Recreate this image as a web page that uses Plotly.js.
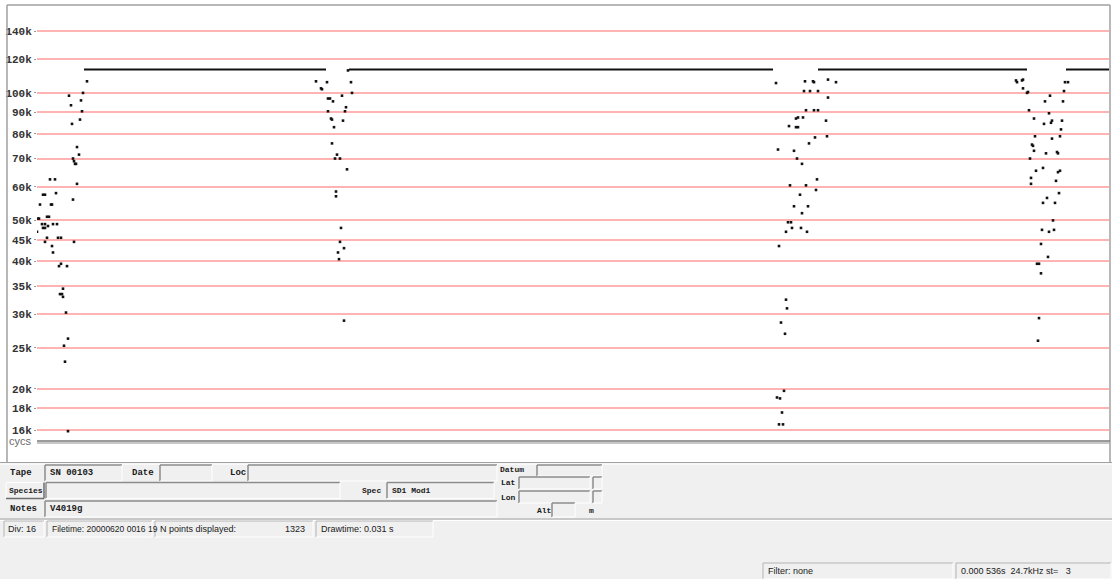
<!DOCTYPE html>
<html><head><meta charset="utf-8">
<script src="https://cdn.plot.ly/plotly-3.0.1.min.js"></script>
<style>html,body{margin:0;padding:0;background:#fff;overflow:hidden}#chart{width:1112px;height:579px}</style>
</head><body><div id="chart"></div>
<script>
// ---------- data (time in display units, frequency in kHz) ----------
const tickFreqs = [16,18,20,25,30,35,40,45,50,60,70,80,90,100,120,140];
const tickLabels = tickFreqs.map(v => v + 'k');

const plateauStart = [47, 312, 781, 1029];
const plateauEnd   = [289, 736, 990, 1073];
const plateauFreq  = [113.5, 113.5, 113.5, 113.5];

const call1Time = [0,1,2,3,5,6,6,8,8,8,8,10,10,11,12,13,14,15,15,16,16,18,19,20,21,22,24,24,23,25,26,26,27,28,29,30,31,31,32,34,35,36,36,37,37,38,39,40,40,42,43,44,45,46,50];
const call1Freq = [47,50.5,50.5,54.5,49,48,57.5,57.5,48,49,44.5,51,45.5,48.5,51,62.5,54.5,54.5,43.5,49,42,62.5,58,49,45.5,39,39.5,45.5,33.5,33.5,33,34.5,25.3,23.2,30.3,39,26.3,15.9,98.5,93.5,84.5,56,70,44.5,69,68,68,74.5,61,71.5,86.5,96,90.5,100,106.5];

const call2Time = [279,290,285,284,311,314,315,305,291,293,296,309,291,308,294,295,306,297,295,300,298,303,310,299,299,304,303,307,301,302,307];
const call2Freq = [106.5,106,102,102.5,113,106,100,98.5,97,97,95.5,92.5,90.5,90.5,87,86.5,86,83,76,71.5,70,70,66,58.5,57,48,44.5,43,42,40.5,29];

const call3Time = [739,768,776,777,791,799,767,773,781,791,769,777,781,766,759,761,789,752,759,761,790,778,772,741,757,760,765,780,753,769,779,763,757,771,765,751,754,755,749,764,770,742,749,750,744,748,747,740,743,745,742,746];
const call3Freq = [105.5,106.5,106.5,106,107.5,106,101,101,101,97.5,91,91,91,87.5,87,87.5,86,83.5,83,83,79,78.5,76,73.5,73,70,68,62.5,60.5,60.5,59,57.5,54,54,52,49.5,49.5,48,47,48,47,43.5,32.5,31,28.7,27,19.8,19.1,19,17.6,16.5,16.5];

const call4Time = [979,980,985,986,1028,1031,986,991,990,1027,1013,1008,1026,992,1012,997,1007,1014,1015,1025,1024,998,1023,1015,995,996,997,1009,1020,1021,993,1006,999,1023,1021,994,1019,994,1022,1010,1006,1018,1016,1005,1017,1012,1004,1011,1000,1002,1004,1002,1001];
const call4Freq = [107,106,107,107.5,106,106,102.5,100.5,100,101,98.5,95.5,95.5,91,89.5,87,84.5,85,86,86,82,79,79,78,75.5,75,73,72,72.5,72,70,66.5,65.5,65.5,65,63,62,61,58,56.5,55,55,50,47.5,47.5,47,44,41,39.5,39.5,37.5,29.4,26];

// ---------- page geometry helpers ----------
const W = 1112, H = 579;
const shapes = [], annotations = [];
const fx = x => x / W, fy = y => 1 - y / H;
function R(x0,y0,x1,y1,fill){shapes.push({type:'rect',xref:'paper',yref:'paper',x0:fx(x0),x1:fx(x1),y0:fy(y1),y1:fy(y0),fillcolor:fill,line:{width:0},layer:'above'});}
function L(x0,y0,x1,y1,c,w){shapes.push({type:'line',xref:'paper',yref:'paper',x0:fx(x0),x1:fx(x1),y0:fy(y0),y1:fy(y1),line:{color:c,width:w},layer:'above'});}
function sunken(x0,y0,x1,y1){R(x0,y0,x1,y1,'#f0f0f0');L(x0,y0,x1,y0,'#8c8c8c',1.5);L(x0,y0,x0,y1,'#8c8c8c',1.5);L(x0,y1,x1,y1,'#ffffff',1);L(x1,y0,x1,y1,'#ffffff',1);}
function thinCell(x0,y0,x1,y1){L(x0,y0,x1,y0,'#b4b4b4',1);L(x0,y0,x0,y1,'#b4b4b4',1);L(x0,y1,x1,y1,'#ffffff',1);L(x1,y0,x1,y1,'#ffffff',1);}
function raised(x0,y0,x1,y1){R(x0,y0,x1,y1,'#f0f0f0');L(x0,y0,x1,y0,'#ffffff',1);L(x0,y0,x0,y1,'#ffffff',1);L(x0,y1,x1,y1,'#6e6e6e',1.5);L(x1,y0,x1,y1,'#6e6e6e',1.5);}
function T(x,y,text,font,anchor){annotations.push({xref:'paper',yref:'paper',x:fx(x),y:fy(y),text:text.replace(/ /g,'\u00a0'),showarrow:false,xanchor:anchor||'left',yanchor:'middle',font:font,borderpad:0});}

const formFont = {family:'Liberation Mono, DejaVu Sans Mono, monospace', size:9, color:'#1a1a1a', weight:'bold'};
const smallForm = Object.assign({}, formFont, {size:8});
const statFont = {family:'Liberation Sans, Arial, sans-serif', size:9, color:'#202020'};
const statNarrow = Object.assign({}, statFont, {size:8.5});

// frame around the display
L(7,5,1110,5,'#a0a0a0',1.5);
L(7,5,7,462,'#a0a0a0',1.5);
L(1110,5,1110,462,'#a0a0a0',1.5);
// cycs baseline
L(37,441,1110,441,'#7a7a7a',1.5);
L(37,443,1110,443,'#b4b4b4',1.5);
T(8,441,'cycs',{family:'Liberation Sans, Arial, sans-serif',size:11,color:'#6a6a6a'});

// lower panel
R(0,463,1112,579,'#f0f0f0');
L(0,462.5,1112,462.5,'#a0a0a0',1);
L(0,464,1112,464,'#ffffff',1);

const c1 = 473, c2 = 490.5, c3 = 509;
T(9,c1,'Tape',formFont);
sunken(45,c1-8,122,c1+8); T(49,c1,'SN 00103',formFont);
T(131,c1,'Date',formFont);
sunken(160,c1-8,212,c1+8);
T(229,c1,'Loc',formFont);
sunken(248,c1-8,497,c1+8);
T(499,c1-4,'Datum',smallForm); sunken(537,c1-8,602,c1+3);
T(500,c1+9,'Lat',smallForm); sunken(519,c1+4,590,c1+16); sunken(593,c1+4,602,c1+16);
T(500,c2+7,'Lon',smallForm); sunken(519,c2+0.5,590,c2+12.5); sunken(593,c2+0.5,602,c2+12.5);

raised(6,c2-8,44,c2+8); T(8,c2,'Species',smallForm);
sunken(46,c2-8,340,c2+8);
T(361,c2,'Spec',smallForm);
sunken(387,c2-8,494,c2+8); T(391,c2,'SD1 Mod1',smallForm);

T(9,c3,'Notes',formFont);
sunken(45,c3-8,497,c3+8); T(49,c3,'V4019g',formFont);
T(536,c3+1,'Alt',smallForm); sunken(552,c3-6,575,c3+8); T(588,c3+1,'m',smallForm);

L(0,519,1112,519,'#a0a0a0',1);
L(0,520.5,1112,520.5,'#ffffff',1);

thinCell(4,521,44,537); T(7,529,'Div: 16',statFont);
thinCell(47,521,152,537); T(51,529,'Filetime: 20000620 0016 19',statNarrow);
thinCell(155,521,313,537); T(159,529,'N points displayed:',statFont); T(306,529,'1323',statFont,'right');
thinCell(316,521,433,537); T(320,529,'Drawtime: 0.031 s',statFont);

thinCell(763,563,953,579); T(767,571,'Filter: none',statFont);
thinCell(956,563,1111,579); T(960,571,'0.000 536s  24.7kHz st=   3',statFont);

// ---------- traces ----------
const px = [], py = [];
plateauStart.forEach((s,i) => { px.push(s, plateauEnd[i], null); py.push(plateauFreq[i], plateauFreq[i], null); });
const dot = {color:'#111', size:2.6, symbol:'square'};
const traces = [
  {x:px, y:py, mode:'lines', line:{color:'#111', width:2}, hoverinfo:'skip'},
  {x:call1Time, y:call1Freq, mode:'markers', marker:dot},
  {x:call2Time, y:call2Freq, mode:'markers', marker:dot},
  {x:call3Time, y:call3Freq, mode:'markers', marker:dot},
  {x:call4Time, y:call4Freq, mode:'markers', marker:dot}
];

const layout = {
  width: W, height: H,
  margin: {l:0, r:0, t:0, b:0},
  paper_bgcolor: '#ffffff', plot_bgcolor: '#ffffff',
  showlegend: false,
  xaxis: {domain:[37/W, 1109/W], range:[0,1072], showgrid:false, zeroline:false, showticklabels:false, showline:false, ticks:''},
  yaxis: {type:'log', domain:[1-440/H, 1-6/H], range:[1.1806, 2.20515],
          tickmode:'array', tickvals:tickFreqs, ticktext:tickLabels,
          showgrid:true, gridcolor:'#ffb3b3', gridwidth:2, zeroline:false, showline:false,
          ticks:'outside', ticklen:2, tickcolor:'#9a9a9a',
          tickfont:{family:'Liberation Mono, DejaVu Sans Mono, monospace', size:11, color:'#333', weight:'bold'}},
  shapes: shapes,
  annotations: annotations
};
Plotly.newPlot('chart', traces, layout, {staticPlot:true, displayModeBar:false});
</script>
</body></html>
